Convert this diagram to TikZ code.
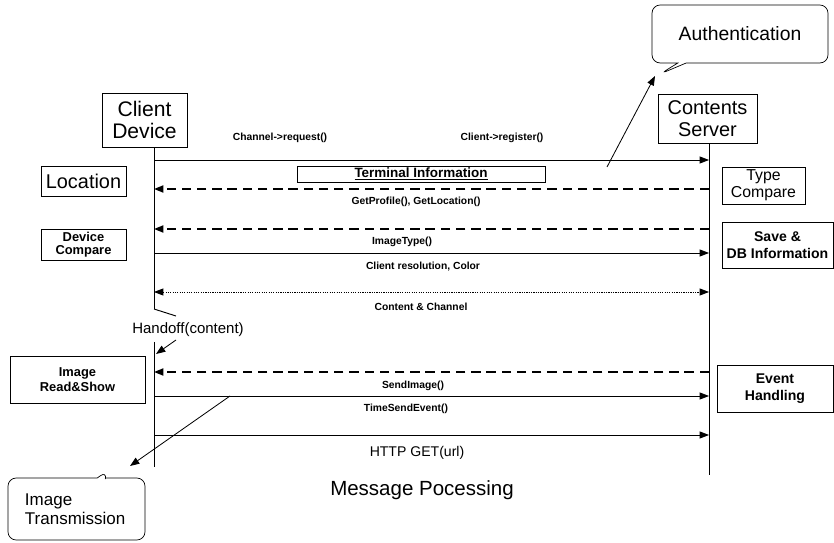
\documentclass[tikz,border=0pt]{standalone}
\usepackage{fontspec}
\setmainfont{Liberation Sans}
\usetikzlibrary{shapes,shapes.callouts,arrows.meta,positioning,calc}

\begin{document}
\begin{tikzpicture}[x=0.03cm,y=-0.03cm,
    box/.style={draw, line width=0.6pt, inner sep=0pt, align=center},
    lbl/.style={font=\fontsize{8.8}{10}\selectfont\bfseries},
    msg/.style={line width=0.7pt, -{Triangle[length=8pt,width=6pt]}},
    ret/.style={line width=1.5pt, dash pattern=on 8pt off 5pt, -{Triangle[length=8pt,width=6pt]}},
    both/.style={line width=0.7pt, dash pattern=on 1pt off 1pt, {Triangle[length=8pt,width=6pt]}-{Triangle[length=8pt,width=6pt]}},
    life/.style={line width=0.8pt},
    note/.style={draw, line width=0.6pt, rectangle callout, rounded corners=7pt, inner sep=0pt}]
    \useasboundingbox (0,0) rectangle (834,543);

    % Lifeline heads
    \node[box, minimum width=2.55cm, minimum height=1.62cm, font=\fontsize{18}{19.5}\selectfont] (client) at (144.5,120) {Client\\Device};
    \node[box, minimum width=2.97cm, minimum height=1.47cm, font=\fontsize{17}{18.5}\selectfont] (server) at (707.5,118.5) {Contents\\Server};

    % Message end points on both lifelines
    \foreach \n/\y in {1/160, 2/189, 3/229, 4/253, 5/292, 6/372, 7/396, 8/435}{
        \coordinate (c\n) at (154,\y);
        \coordinate (s\n) at (709,\y);
    }

    % Lifelines
    \coordinate (cbreak) at (154,309);
    \coordinate (cback) at (154,342);
    \draw[life] (client.south -| c1) -- (cbreak);
    \draw[life] (cbreak) -- (176,316);
    \draw[life] (cback) -- (154,467);
    \draw[life] (server.south -| s1) -- (709,475);

    % Side boxes
    \node[box, minimum width=2.55cm, minimum height=0.9cm, font=\fontsize{17}{18}\selectfont] (location) at (83.5,181) {Location};
    \node[box, minimum width=2.55cm, minimum height=0.93cm, font=\fontsize{11}{11.5}\selectfont\bfseries] (devcmp) at (83.5,244.5) {Device\\Compare};
    \node[box, minimum width=4.05cm, minimum height=1.41cm, font=\fontsize{11}{13}\selectfont\bfseries] (readshow) at (77.5,379.5) {Image\\Read\&Show};
    \node[box, minimum width=2.49cm, minimum height=1.11cm, font=\fontsize{13.5}{14.5}\selectfont] (typecmp) at (763.5,185.5) {Type\\Compare};
    \node[box, minimum width=3.33cm, minimum height=1.38cm, font=\fontsize{12}{14}\selectfont\bfseries] (savedb) at (777.5,245) {Save \&\\DB Information};
    \node[box, minimum width=3.48cm, minimum height=1.41cm, font=\fontsize{12}{14}\selectfont\bfseries] (event) at (775,388.5) {Event\\Handling};
    \node[box, minimum width=7.44cm, minimum height=0.48cm, font=\fontsize{11.5}{12}\selectfont\bfseries] (terminal) at (421,174) {\underline{Terminal Information}};

    % Messages
    \draw[msg] (c1) -- (s1);
    \draw[ret] (s2) -- (c2);
    \draw[ret] (s3) -- (c3);
    \draw[msg] (c4) -- (s4);
    \draw[both] (c5) -- (s5);
    \draw[ret] (s6) -- (c6);
    \draw[msg] (c7) -- (s7);
    \draw[msg] (c8) -- (s8);

    % Message labels
    \node[lbl] (req) at (280,138) {Channel->request()};
    \node[lbl] (reg) at (502,138) {Client->register()};
    \node[lbl] (profile) at (416,202) {GetProfile(), GetLocation()};
    \node[lbl] (imgtype) at (402,242) {ImageType()};
    \node[lbl] (resol) at (423,267) {Client resolution, Color};
    \node[lbl] (content) at (421,307) {Content \& Channel};
    \node[lbl] (sendimg) at (413,386) {SendImage()};
    \node[lbl] (timesend) at (406,409) {TimeSendEvent()};
    \node[font=\fontsize{12}{14}\selectfont] (httpget) at (417,453) {HTTP GET(url)};
    \node[font=\fontsize{17.5}{19}\selectfont] (title) at (422,490) {Message Pocessing};

    % Handoff
    \node[font=\fontsize{12.8}{14}\selectfont] (handoff) at (188,330) {Handoff(content)};
    \coordinate (hofrom) at (176,340);
    \coordinate (hoto) at (156,354);
    \draw[msg] (hofrom) -- (hoto);

    % Callouts
    \node[note, minimum width=5.28cm, minimum height=1.74cm, callout absolute pointer={(660,74)}, font=\fontsize{16.5}{18}\selectfont] (auth) at (740,34) {Authentication};
    \node[note, minimum width=4.11cm, minimum height=1.86cm, text width=3.09cm, align=left, callout absolute pointer={(107,471)}, font=\fontsize{14.5}{16.5}\selectfont] (imgtx) at (76.5,509) {Image\\Transmission};

    \coordinate (authfrom) at (607,167);
    \coordinate (authto) at (655,76);
    \draw[msg] (authfrom) -- (authto);
    \coordinate (txfrom) at (230,396);
    \coordinate (txto) at (130,466);
    \draw[msg] (txfrom) -- (txto);

\end{tikzpicture}
\end{document}
